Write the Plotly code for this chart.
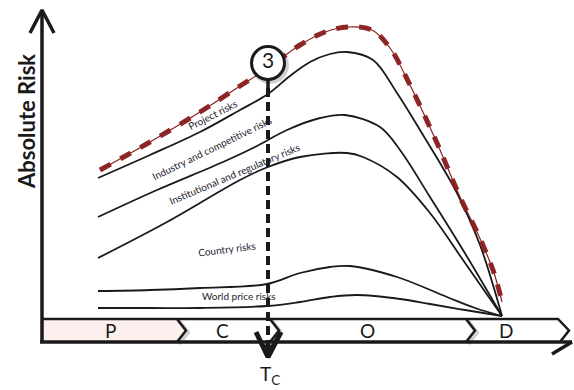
import plotly.graph_objects as go

# Time along the project life (arbitrary units) and absolute risk of each layer
total_t = [58, 108, 158, 198, 226, 258, 283, 306, 330, 348, 368, 395, 418, 435, 451, 460]
total_r = [172, 200, 230, 256, 274, 297, 310, 315, 312, 294, 257, 199, 145, 110, 72, 40]

project_t = [56, 108, 158, 198, 226, 248, 268, 288, 305, 331, 355, 378, 398, 415, 438, 460]
project_r = [164, 187, 210, 232, 248, 266, 280, 288, 290, 282, 249, 212, 179, 149, 97, 26]

industry_t = [56, 115, 181, 213, 245, 278, 303, 338, 358, 388, 421, 460]
industry_r = [125, 152, 180, 195, 212, 224, 227, 215, 192, 145, 92, 26]

institutional_t = [56, 125, 198, 226, 258, 305, 321, 355, 388, 421, 460]
institutional_r = [84, 120, 162, 175, 185, 189, 185, 165, 129, 82, 26]

country_t = [56, 108, 158, 225, 258, 288, 308, 355, 405, 433, 460]
country_r = [51, 52, 54, 58, 69, 75, 76, 65, 45, 34, 26]

world_t = [56, 108, 158, 225, 258, 288, 315, 358, 388, 423, 460]
world_r = [34, 34, 34, 36, 40, 45, 47, 43, 38, 32, 26]

layer_names = ["Project risks", "Industry and competitive risks",
               "Institutional and regulatory risks", "Country risks", "World price risks"]
layer_label_t = [170, 170, 192, 185, 197]
layer_label_r = [227, 194, 168, 93, 46]
layer_label_angle = [-27, -26, -23, -7, 0]

# Project phases along the time axis
stage_names = ["P", "C", "O", "D"]
stage_ends = [135, 228, 424, 516]
stage_label_t = [68, 180, 325, 464]
band_height = 23
chevron_depth = 9

tc_time = 226          # time of the critical point T_C
tc_marker_r = 279      # height of the numbered marker
axis_top = 332
axis_right = 530

INK = "#1a1a1a"
RED = "#8a1f1f"
FONT = "Lato, 'Open Sans', sans-serif"

fig = go.Figure()

# phase band
p_end = stage_ends[0]
fig.add_trace(go.Scatter(
    x=[0, 0, p_end, p_end + chevron_depth, p_end, 0],
    y=[0, band_height, band_height, band_height / 2, 0, 0],
    mode="lines", fill="toself", fillcolor="#fcefed",
    line=dict(width=0), hoverinfo="skip"))
# soft shadows under the chevrons
for e in stage_ends[:-1]:
    fig.add_trace(go.Scatter(
        x=[e + 2, e + chevron_depth + 2, e + 2], y=[band_height - 2, band_height / 2 - 2, -2],
        mode="lines", line=dict(color="rgba(0,0,0,0.18)", width=4), hoverinfo="skip"))
fig.add_trace(go.Scatter(
    x=[0, stage_ends[-1], stage_ends[-1] + chevron_depth + 2, stage_ends[-1] + 2],
    y=[band_height, band_height, band_height / 2, 0],
    mode="lines", line=dict(color=INK, width=2.5), hoverinfo="skip"))
for e in stage_ends[:-1]:
    fig.add_trace(go.Scatter(
        x=[e, e + chevron_depth, e], y=[band_height, band_height / 2, 0],
        mode="lines", line=dict(color=INK, width=2.5), hoverinfo="skip"))

# axes with arrows
fig.add_trace(go.Scatter(x=[0, 0], y=[-1, axis_top], mode="lines",
                         line=dict(color=INK, width=3.5), hoverinfo="skip"))
fig.add_trace(go.Scatter(x=[-12, 0, 12], y=[axis_top - 23, axis_top, axis_top - 23],
                         mode="lines", line=dict(color=INK, width=3.5), hoverinfo="skip"))
fig.add_trace(go.Scatter(x=[-2, axis_right], y=[0, 0], mode="lines",
                         line=dict(color=INK, width=3.5), hoverinfo="skip"))
fig.add_trace(go.Scatter(x=[axis_right, axis_right - 20], y=[0, -12], mode="lines",
                         line=dict(color=INK, width=3.5), hoverinfo="skip"))

# risk layers
for t, r in [(project_t, project_r), (industry_t, industry_r),
             (institutional_t, institutional_r), (country_t, country_r),
             (world_t, world_r)]:
    fig.add_trace(go.Scatter(x=t, y=r, mode="lines",
                             line=dict(color=INK, width=1.8, shape="spline", smoothing=1),
                             hoverinfo="skip"))

# total risk envelope
fig.add_trace(go.Scatter(x=total_t, y=total_r, mode="lines",
                         line=dict(color=RED, width=1.2, shape="spline", smoothing=1),
                         hoverinfo="skip"))
fig.add_trace(go.Scatter(x=total_t, y=total_r, mode="lines",
                         line=dict(color=RED, width=5, dash="12px,11px",
                                   shape="spline", smoothing=1),
                         opacity=0.95, hoverinfo="skip"))

# critical time marker
fig.add_trace(go.Scatter(x=[tc_time, tc_time], y=[tc_marker_r - 10, tc_marker_r - 25],
                         mode="lines", line=dict(color=INK, width=3.5), hoverinfo="skip"))
fig.add_trace(go.Scatter(x=[tc_time, tc_time], y=[tc_marker_r - 25, -10],
                         mode="lines", line=dict(color=INK, width=4, dash="9px,5px"),
                         hoverinfo="skip"))
fig.add_trace(go.Scatter(x=[tc_time - 12, tc_time, tc_time + 13], y=[10, -15, 10],
                         mode="lines", line=dict(color=INK, width=5), hoverinfo="skip"))
fig.add_trace(go.Scatter(x=[tc_time - 5, tc_time, tc_time + 5, tc_time - 5],
                         y=[-3, -14, -3, -3], mode="lines", fill="toself",
                         fillcolor=INK, line=dict(color=INK, width=1), hoverinfo="skip"))
fig.add_trace(go.Scatter(x=[tc_time + 2], y=[tc_marker_r - 2], mode="markers",
                         marker=dict(size=38, color="rgba(0,0,0,0.18)", line=dict(width=0)),
                         hoverinfo="skip"))
fig.add_trace(go.Scatter(x=[tc_time], y=[tc_marker_r], mode="markers+text",
                         marker=dict(size=33, color="white", line=dict(color=INK, width=3)),
                         text=["3"], textposition="middle center",
                         textfont=dict(family=FONT, size=21, color=INK),
                         hoverinfo="skip"))

annotations = []
for name, t, r, a in zip(layer_names, layer_label_t, layer_label_r, layer_label_angle):
    annotations.append(dict(x=t, y=r, text=name, showarrow=False, textangle=a,
                            font=dict(family=FONT, size=10, color="#23232e")))
for name, t in zip(stage_names, stage_label_t):
    annotations.append(dict(x=t, y=band_height / 2, text=name, showarrow=False,
                            font=dict(family=FONT, size=19, color=INK)))
annotations.append(dict(x=tc_time + 2, y=-33, text="T<sub>C</sub>", showarrow=False,
                        font=dict(family=FONT, size=19, color=INK)))
annotations.append(dict(x=-16, y=220, text="<b>Absolute Risk</b>", showarrow=False,
                        textangle=-90, font=dict(family=FONT, size=22, color=INK)))

fig.update_layout(
    width=574, height=390,
    margin=dict(l=0, r=0, t=0, b=0),
    paper_bgcolor="white", plot_bgcolor="white",
    showlegend=False, hovermode=False,
    xaxis=dict(range=[-42, 532], visible=False, fixedrange=True),
    yaxis=dict(range=[-48, 342], visible=False, fixedrange=True),
    annotations=annotations,
)

fig.write_html("out.html")
